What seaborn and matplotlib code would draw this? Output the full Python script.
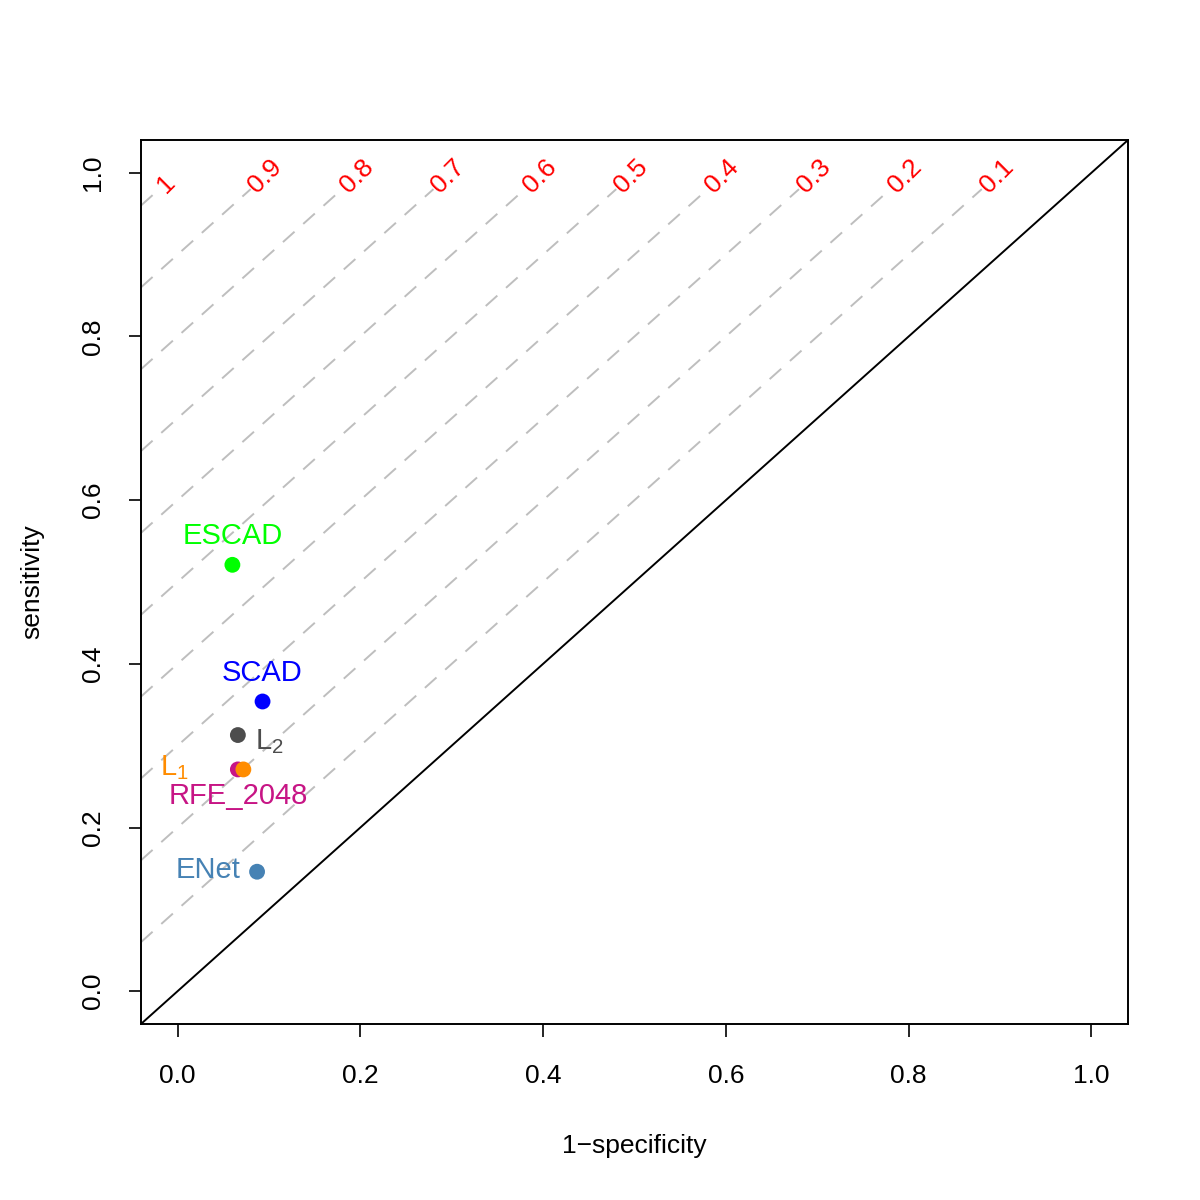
import numpy as np
import pandas as pd
import matplotlib
matplotlib.use("Agg")
import matplotlib.pyplot as plt
import seaborn as sns

# methods, 1-specificity and sensitivity
methods = ["ESCAD", "SCAD", "L2", "RFE_2048", "L1", "ENet"]
fpr = [0.060, 0.093, 0.066, 0.066, 0.072, 0.087]
sens = [0.521, 0.354, 0.313, 0.271, 0.271, 0.146]
colors = ["#00FF00", "#0000FF", "#4D4D4D", "#C71585", "#FF8C00", "#4682B4"]
labels = ["ESCAD", "SCAD", r"$\mathregular{L_2}$", "RFE_2048", r"$\mathregular{L_1}$", "ENet"]
# label offsets in pixels (dx, dy) and alignment
offsets = [(0, 29), (0, 28), (17, -7), (0, -27), (-55, 2), (-17, 2)]
aligns = ["center", "center", "left", "center", "right", "right"]

# Youden index levels for the dashed guides
levels = [1, 0.9, 0.8, 0.7, 0.6, 0.5, 0.4, 0.3, 0.2, 0.1]
level_text = ["1", "0.9", "0.8", "0.7", "0.6", "0.5", "0.4", "0.3", "0.2", "0.1"]
ticks = [0.0, 0.2, 0.4, 0.6, 0.8, 1.0]

df = pd.DataFrame({"method": methods, "fpr": fpr, "sens": sens})

sns.set_style("ticks")
plt.rcParams["font.family"] = ["Liberation Sans", "DejaVu Sans"]
plt.rcParams["text.color"] = "black"
plt.rcParams["axes.labelcolor"] = "black"
plt.rcParams["xtick.color"] = "black"
plt.rcParams["ytick.color"] = "black"

fig = plt.figure(figsize=(12, 12), dpi=100)
ax = fig.add_axes([0.1175, 0.1467, 0.8225, 0.7366])

# dashed guides y = x + c and their labels
for c, t in zip(levels, level_text):
    x_end = 0.98 - c
    ax.plot([-0.04, x_end], [-0.04 + c, 0.98], color="#BEBEBE", lw=1.4,
            linestyle=(0, (8, 6)), zorder=1)
    ax.text(x_end + 0.002, 0.98, t, color="red", fontsize=19, rotation=45,
            rotation_mode="anchor", ha="left", va="center", zorder=2)

# chance line
ax.plot([-0.1, 1.1], [-0.1, 1.1], color="black", lw=1.4, zorder=1)

sns.scatterplot(data=df, x="fpr", y="sens", hue="method", palette=colors,
                hue_order=methods, s=130, edgecolor="none", legend=False,
                ax=ax, zorder=3)

for x, y, lab, col, off, ha in zip(fpr, sens, labels, colors, offsets, aligns):
    ax.annotate(lab, (x, y), xytext=off, textcoords="offset pixels",
                ha=ha, va="center", color=col, fontsize=21, zorder=4)

ax.set_xlim(-0.04, 1.04)
ax.set_ylim(-0.04, 1.04)
ax.set_xticks(ticks)
ax.set_yticks(ticks)
ax.set_xticklabels([f"{v:.1f}" for v in ticks])
ax.set_yticklabels([f"{v:.1f}" for v in ticks], rotation=90, va="center")
ax.tick_params(axis="x", length=9, width=1.2, labelsize=19, pad=20)
ax.tick_params(axis="y", length=9, width=1.2, labelsize=19, pad=17)
for s in ax.spines.values():
    s.set_linewidth(1.4)
    s.set_edgecolor("black")
    s.set_visible(True)

ax.set_xlabel("1\u2212specificity", fontsize=19, labelpad=33)
ax.set_ylabel("sensitivity", fontsize=19, labelpad=26)

fig.savefig("out.png", dpi=100)
